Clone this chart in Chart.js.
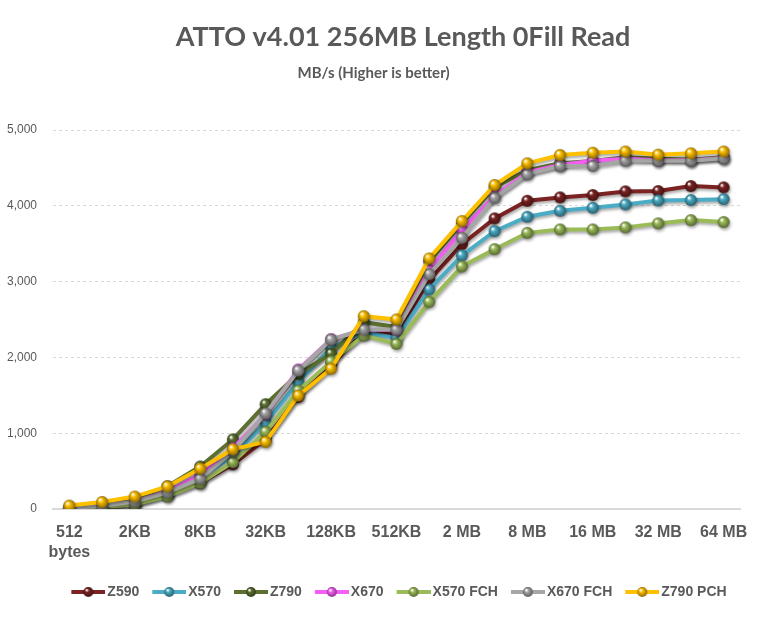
<!DOCTYPE html>
<html>
<head>
<meta charset="utf-8">
<script src="https://cdn.jsdelivr.net/npm/chart.js@4.4.1/dist/chart.umd.min.js"></script>
<style>
  html, body { margin: 0; padding: 0; background: #fff; }
  #wrap { width: 773px; height: 617px; }
</style>
</head>
<body>
<div id="wrap"><canvas id="chart" width="773" height="617"></canvas></div>
<script>
// block sizes (every other one gets a label)
const blockSizes = ['512 bytes', '1KB', '2KB', '4KB', '8KB', '16KB', '32KB', '64KB', '128KB', '256KB', '512KB',
    '1 MB', '2 MB', '4 MB', '8 MB', '12 MB', '16 MB', '24 MB', '32 MB', '48 MB', '64 MB'];

const seriesNames = ['Z590', 'X570', 'Z790', 'X670', 'X570 FCH', 'X670 FCH', 'Z790 PCH'];
const seriesColors = ['#7b2222', '#4bacc6', '#5b7030', '#f55ff5', '#9bbb59', '#a6a6a6', '#ffc000'];

// MB/s
const z590 = [15, 30, 60, 180, 340, 590, 920, 1480, 1900, 2330, 2300, 3020, 3494, 3834, 4066, 4111, 4141, 4190, 4194, 4260, 4243];
const x570 = [15, 35, 80, 200, 420, 700, 1138, 1678, 2125, 2330, 2257, 2896, 3345, 3666, 3855, 3934, 3974, 4018, 4071, 4075, 4088];
const z790 = [20, 50, 130, 300, 560, 918, 1382, 1780, 2049, 2464, 2400, 3270, 3770, 4250, 4470, 4560, 4590, 4640, 4620, 4610, 4640];
const x670 = [15, 40, 100, 230, 450, 800, 1250, 1840, 2240, 2360, 2360, 3150, 3680, 4130, 4440, 4540, 4595, 4620, 4600, 4600, 4630];
const x570fch = [10, 25, 60, 166, 342, 617, 1019, 1562, 1947, 2288, 2178, 2732, 3200, 3428, 3643, 3688, 3688, 3715, 3768, 3811, 3785];
const x670fch = [15, 40, 100, 220, 400, 760, 1262, 1827, 2235, 2367, 2367, 3098, 3577, 4106, 4415, 4525, 4525, 4595, 4595, 4595, 4626];
const z790pch = [45, 93, 164, 298, 533, 789, 886, 1496, 1850, 2544, 2500, 3305, 3798, 4274, 4560, 4670, 4700, 4716, 4674, 4692, 4716];

const allSeries = [z590, x570, z790, x670, x570fch, x670fch, z790pch];

const chartTitle = 'ATTO v4.01 256MB Length 0Fill Read';
const textGray = '#595959';

function darken(hex, amt) {
    let n = parseInt(hex.slice(1), 16),
        r = (n >> 16) & 255, g = (n >> 8) & 255, b = n & 255;
    r = Math.round(r * (1 - amt)); g = Math.round(g * (1 - amt)); b = Math.round(b * (1 - amt));
    return `rgb(${r},${g},${b})`;
}

function drawSphere(g, cx, cy, r, color) {
    const grad = g.createRadialGradient(cx - r * 0.35, cy - r * 0.4, r * 0.1, cx, cy, r);
    grad.addColorStop(0, 'rgba(255,255,255,0.95)');
    grad.addColorStop(0.3, color);
    grad.addColorStop(1, darken(color, 0.45));
    g.beginPath();
    g.arc(cx, cy, r, 0, Math.PI * 2);
    g.fillStyle = grad;
    g.fill();
}

// little 3D ball used as the marker
function sphereImage(color) {
    const r = 6, c = document.createElement('canvas');
    c.width = c.height = 2 * r + 2;
    drawSphere(c.getContext('2d'), r + 1, r + 1, r, color);
    return c;
}

// line + ball for the legend; the image gets centred on the box,
// so the line sits in its right part to end just before the text
function legendImage(color) {
    const c = document.createElement('canvas');
    c.width = 44; c.height = 12;
    const g = c.getContext('2d');
    g.strokeStyle = color;
    g.lineWidth = 4;
    g.beginPath();
    g.moveTo(10, 6); g.lineTo(44, 6);
    g.stroke();
    drawSphere(g, 27, 6, 5, color);
    return c;
}

const shadowPlugin = {
    id: 'shadow',
    beforeDatasetsDraw(chart) {
        const ctx = chart.ctx;
        ctx.save();
        ctx.shadowColor = 'rgba(0,0,0,0.35)';
        ctx.shadowBlur = 3;
        ctx.shadowOffsetX = 1;
        ctx.shadowOffsetY = 2;
    },
    afterDatasetsDraw(chart) {
        chart.ctx.restore();
    }
};

// main title sits a bit right of centre in the original
const titlePlugin = {
    id: 'bigTitle',
    afterDraw(chart) {
        const ctx = chart.ctx;
        ctx.save();
        ctx.font = 'bold 27px Lato';
        ctx.fillStyle = textGray;
        ctx.textAlign = 'center';
        ctx.textBaseline = 'middle';
        ctx.fillText(chartTitle, 403, 37);
        ctx.restore();
    }
};

const datasets = seriesNames.map((name, i) => ({
    label: name,
    data: allSeries[i],
    borderColor: seriesColors[i],
    backgroundColor: seriesColors[i],
    borderWidth: 4,
    pointStyle: sphereImage(seriesColors[i]),
    pointRadius: 6,
    tension: 0,
    order: seriesNames.length - i
}));

const legendImgs = seriesColors.map(c => legendImage(c));

new Chart(document.getElementById('chart'), {
    type: 'line',
    data: {
        labels: blockSizes,
        datasets: datasets
    },
    plugins: [shadowPlugin, titlePlugin],
    options: {
        responsive: false,
        animation: false,
        devicePixelRatio: 1,
        layout: {
            padding: { left: 7, right: 33, top: 0, bottom: 8 }
        },
        plugins: {
            title: { display: false },
            subtitle: {
                display: true,
                text: 'MB/s (Higher is better)',
                color: textGray,
                font: { family: 'Lato', size: 15, weight: 'bold', lineHeight: 1.2 },
                padding: { top: 64, bottom: 48 }
            },
            legend: {
                position: 'bottom',
                fullSize: false,
                labels: {
                    usePointStyle: true,
                    pointStyleWidth: 34,
                    boxHeight: 12,
                    padding: 8,
                    color: textGray,
                    font: { family: 'Liberation Sans', size: 14, weight: 'bold' },
                    generateLabels(chart) {
                        return chart.data.datasets.map((ds, i) => ({
                            text: ds.label,
                            pointStyle: legendImgs[i],
                            fillStyle: ds.borderColor,
                            strokeStyle: ds.borderColor,
                            lineWidth: 0,
                            fontColor: textGray,
                            hidden: false,
                            datasetIndex: i
                        }));
                    }
                }
            },
            tooltip: { enabled: false }
        },
        scales: {
            x: {
                offset: true,
                grid: { display: false, drawTicks: false },
                border: { display: true, color: '#d9d9d9', width: 2 },
                ticks: {
                    autoSkip: false,
                    maxRotation: 0,
                    padding: 14,
                    color: textGray,
                    font: { family: 'Liberation Sans', size: 16, weight: 'bold', lineHeight: 1.25 },
                    callback: function (val, idx) {
                        if (idx % 2) return '';
                        const lab = this.getLabelForValue(val);
                        return lab === '512 bytes' ? ['512', 'bytes'] : lab;
                    }
                }
            },
            y: {
                min: 0,
                max: 5000,
                afterFit: s => { s.width = 46; },
                ticks: {
                    stepSize: 1000,
                    padding: 16,
                    color: textGray,
                    font: { family: 'Liberation Sans', size: 12 },
                    callback: v => v.toLocaleString('en-US')
                },
                grid: {
                    drawTicks: false,
                    color: c => c.tick && c.tick.value === 0 ? 'rgba(0,0,0,0)' : '#d9d9d9',
                    lineWidth: 1
                },
                border: { display: false, dash: [3, 3] }
            }
        }
    }
});
</script>
</body>
</html>
